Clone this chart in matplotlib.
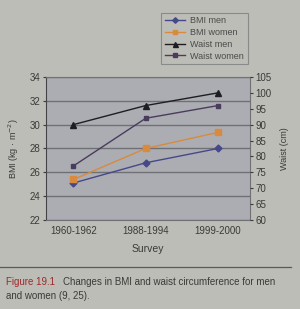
import matplotlib
matplotlib.use("Agg")
import matplotlib.pyplot as plt
from matplotlib.lines import Line2D

plt.rcParams['font.family'] = ['Liberation Sans', 'DejaVu Sans']

surveys = ["1960-1962", "1988-1994", "1999-2000"]
bmi_men = [25.1, 26.8, 28.0]
bmi_women = [25.4, 28.0, 29.35]
waist_men = [90, 96, 100]
waist_women = [77, 92, 96]
bmi_ticks = [22, 24, 26, 28, 30, 32, 34]
waist_ticks = [60, 65, 70, 75, 80, 85, 90, 95, 100, 105]

page = '#bcbdb6'
plot_bg = '#abadb3'
c_bm = '#46488a'
c_bw = '#d98a3c'
c_wm = '#1e1e22'
c_ww = '#4a3c5c'

fig = plt.figure(figsize=(3.0, 3.09), dpi=100, facecolor=page)
ax = fig.add_axes([0.153, 0.288, 0.68, 0.463])
ax.set_facecolor(plot_bg)
x = list(range(len(surveys)))
ax.set_xlim(-0.38, 2.44)
ax.set_ylim(22, 34)
ax.set_yticks(bmi_ticks)
ax.set_xticks(x)
ax.set_xticklabels(surveys, fontsize=7, color='#3a3a3a')
ax.tick_params(axis='y', labelsize=7, colors='#3a3a3a', length=2, pad=2)
ax.tick_params(axis='x', length=0, pad=4)
ax.grid(axis='y', color='#6f7076', linewidth=1.0)
ax.set_axisbelow(True)
for s in ax.spines.values():
    s.set_color('#707075')
ax.spines['left'].set_color('#444448')
ax.set_ylabel("BMI (kg · m$^{-2}$)", fontsize=6.5, color='#3a3a3a', labelpad=6)
ax.set_xlabel("Survey", fontsize=7.5, color='#3a3a3a', labelpad=6)

l1, = ax.plot(x, bmi_men, color=c_bm, marker='D', markersize=3.5, linewidth=1.0)
l2, = ax.plot(x, bmi_women, color=c_bw, marker='s', markersize=4, linewidth=1.0)

ax2 = ax.twinx()
ax2.set_ylim(60, 105)
ax2.set_yticks(waist_ticks)
ax2.tick_params(axis='y', labelsize=7, colors='#3a3a3a', length=2, pad=2)
for s in ax2.spines.values():
    s.set_visible(False)
ax2.set_ylabel("Waist (cm)", fontsize=6.5, color='#3a3a3a', labelpad=6)
l3, = ax2.plot(x, waist_men, color=c_wm, marker='^', markersize=4.5, linewidth=1.0)
l4, = ax2.plot(x, waist_women, color=c_ww, marker='s', markersize=3, linewidth=1.0)

leg = fig.legend([l1, l2, l3, l4], ["BMI men", "BMI women", "Waist men", "Waist women"],
                 loc='upper left', bbox_to_anchor=(0.523, 0.973), fontsize=6.5,
                 frameon=True, fancybox=False, handlelength=2.2, labelspacing=0.3,
                 borderpad=0.4, handletextpad=0.6, markerscale=0.8)
leg.get_frame().set_facecolor(page)
leg.get_frame().set_edgecolor('#7d7e80')
leg.get_frame().set_linewidth(0.8)
for t in leg.get_texts():
    t.set_color('#4a4a4a')

fig.add_artist(Line2D([0.0, 0.97], [0.136, 0.136], color='#5a5a5a', linewidth=0.9))
fig.text(0.02, 0.087, "Figure 19.1", fontsize=7, color='#a0282a', va='center')
fig.text(0.21, 0.087, "Changes in BMI and waist circumference for men",
         fontsize=7, color='#3a3a3a', va='center')
fig.text(0.02, 0.042, "and women (9, 25).", fontsize=7, color='#3a3a3a', va='center')

fig.savefig("out.png", dpi=100, facecolor=page)
